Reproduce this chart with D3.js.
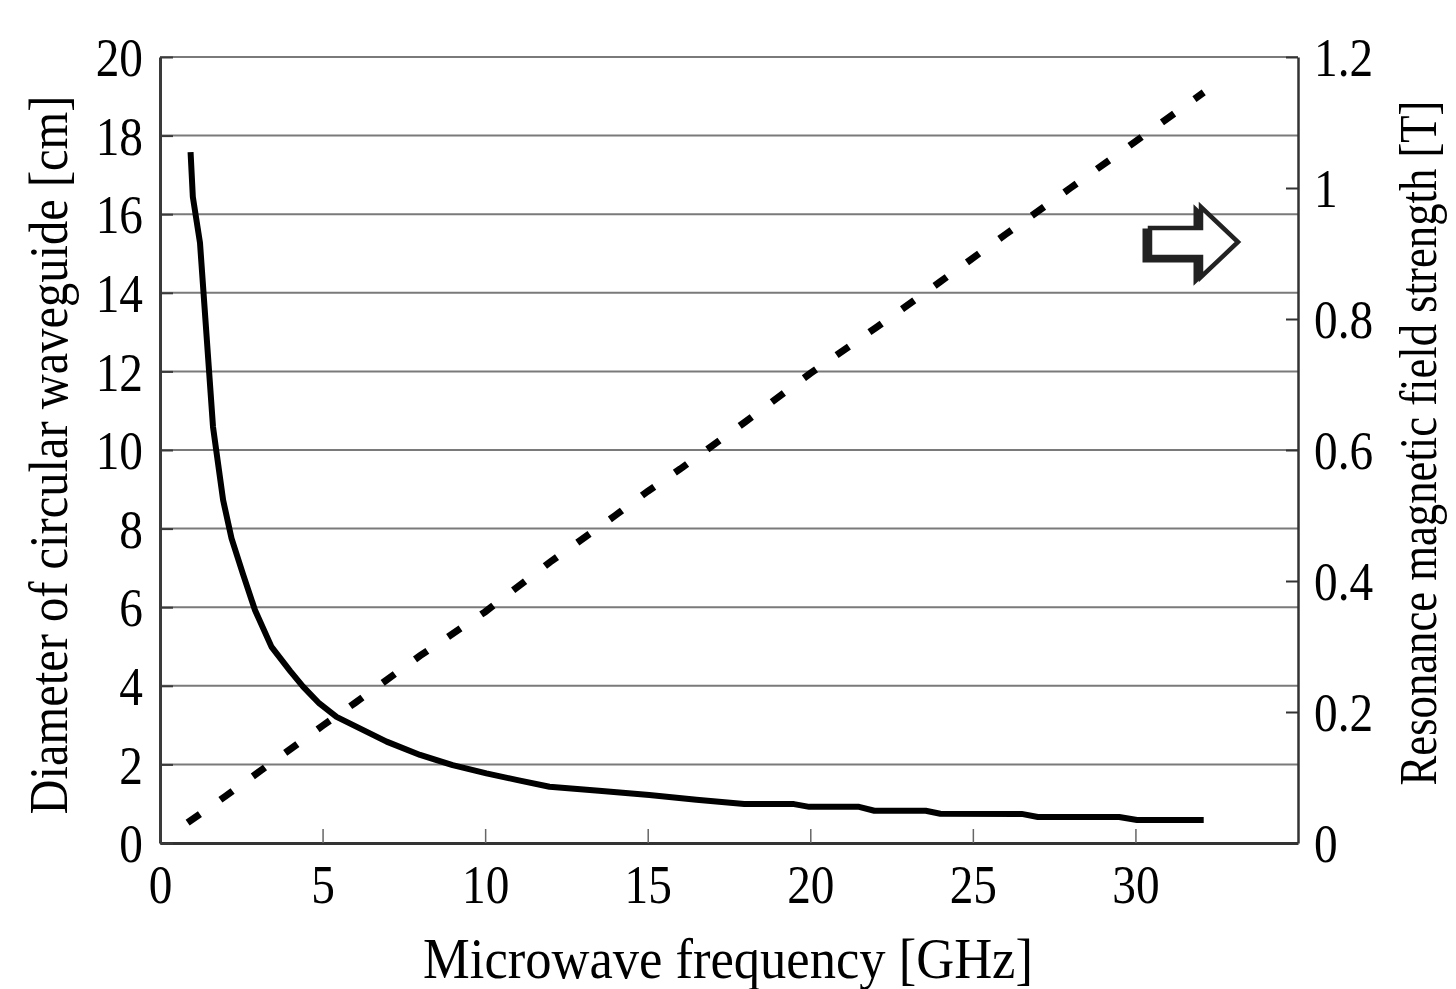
<!DOCTYPE html>
<html><head><meta charset="utf-8">
<script src="https://cdn.jsdelivr.net/npm/d3@7"></script>
<style>html,body{margin:0;padding:0;background:#fff;} svg{display:block;}</style>
</head><body>
<svg id="chart" width="1456" height="989"></svg>
<script>
// ---- data ----
const freqDiameter = [0.94, 1.01, 1.23, 1.63, 1.94, 2.2, 2.55, 2.92, 3.43, 4.0, 4.4, 4.9, 5.43, 6.97, 8.0, 9.0, 10.04, 11.0, 11.98, 13.5, 15.05, 16.5, 17.97, 19.5, 19.97, 21.5, 21.97, 23.55, 24.0, 26.5, 27.0, 29.5, 30.05, 32.1];
const diameterCm   = [17.58, 16.44, 15.27, 10.59, 8.73, 7.75, 6.85, 5.93, 4.99, 4.38, 3.98, 3.55, 3.21, 2.58, 2.24, 1.98, 1.77, 1.6, 1.43, 1.33, 1.22, 1.1, 0.99, 0.99, 0.92, 0.92, 0.82, 0.82, 0.745, 0.74, 0.66, 0.66, 0.585, 0.585];
const freqField    = [0.85, 2, 3, 4, 5, 6, 8, 10, 12, 14, 15, 16, 18, 20, 22, 24, 26, 28, 30, 32.1];
const fieldT       = [0.031, 0.071, 0.107, 0.143, 0.179, 0.214, 0.286, 0.353, 0.429, 0.5, 0.537, 0.571, 0.643, 0.717, 0.786, 0.857, 0.929, 1.0, 1.071, 1.146];
const xTicks  = [0, 5, 10, 15, 20, 25, 30];
const yLTicks = [0, 2, 4, 6, 8, 10, 12, 14, 16, 18, 20];
const yRTicks = [0, 0.2, 0.4, 0.6, 0.8, 1, 1.2];
const xTitle  = "Microwave frequency [GHz]";
const yLTitle = "Diameter of circular waveguide [cm]";
const yRTitle = "Resonance magnetic field strength [T]";

// ---- layout ----
const L = 160, R = 1298, T = 57, B = 843;
const svg = d3.select("#chart");
const x  = d3.scaleLinear().domain([0, 35]).range([L, R]);
const yL = d3.scaleLinear().domain([0, 20]).range([B, T]);
const yR = d3.scaleLinear().domain([0, 1.2]).range([B, T]);
const FONT = "'Liberation Serif','Times New Roman',serif";
const FS = 55, SX = 0.86;

// gridlines
svg.append("g").selectAll("line").data(yLTicks).join("line")
  .attr("x1", L).attr("x2", R).attr("y1", d => yL(d)).attr("y2", d => yL(d))
  .attr("stroke", "#7a7a7a").attr("stroke-width", 2);

// axes
function styleAxis(g, col, w) {
  g.select(".domain").attr("stroke", col).attr("stroke-width", w);
  g.selectAll(".tick line").attr("stroke", col).attr("stroke-width", 2);
  g.selectAll(".tick text").attr("font-family", FONT).attr("font-size", FS).attr("fill", "#000");
}
const gx = svg.append("g").attr("transform", `translate(0,${B})`)
  .call(d3.axisBottom(x).tickValues(xTicks).tickSizeInner(-14).tickSizeOuter(0).tickPadding(0));
styleAxis(gx, "#333", 3);
gx.selectAll(".tick line").attr("stroke", "#666").attr("stroke-width", 1.5);
gx.selectAll(".tick text").attr("y", 0).attr("dy", null)
  .attr("transform", `translate(0,${903 - B}) scale(${SX},1)`);

const gl = svg.append("g").attr("transform", `translate(${L},0)`)
  .call(d3.axisLeft(yL).tickValues(yLTicks).tickSizeInner(-13).tickSizeOuter(0).tickPadding(0));
styleAxis(gl, "#3a3a3a", 3);
gl.selectAll(".tick text").attr("x", 0).attr("dy", "0.34em")
  .attr("transform", `translate(-17,0) scale(${SX},1)`);

const gr = svg.append("g").attr("transform", `translate(${R},0)`)
  .call(d3.axisRight(yR).tickValues(yRTicks).tickSizeInner(-12).tickSizeOuter(0).tickPadding(0)
    .tickFormat(d => String(d)));
styleAxis(gr, "#333", 2.5);
gr.selectAll(".tick text").attr("x", 0).attr("dy", "0.34em")
  .attr("transform", `translate(16,0) scale(${SX},1)`);

// series
const dLine = d3.line().x(d => x(d[0])).y(d => yL(d[1]));
svg.append("path").datum(d3.zip(freqDiameter, diameterCm))
  .attr("d", dLine).attr("fill", "none").attr("stroke", "#000")
  .attr("stroke-width", 6).attr("stroke-linejoin", "round");

const bLine = d3.line().x(d => x(d[0])).y(d => yR(d[1]));
svg.append("path").datum(d3.zip(freqField, fieldT))
  .attr("d", bLine).attr("fill", "none").attr("stroke", "#000")
  .attr("stroke-width", 7).attr("stroke-dasharray", "15,25");

// arrow pointing to right axis
const arrowPts = [[1150,228],[1201,228],[1201,207],[1238,242],[1201,277],[1201,257],[1150,257]];
svg.append("polygon").attr("points", arrowPts.map(p => [p[0]-5, p[1]+3].join(",")).join(" "))
  .attr("fill", "#222").attr("stroke", "#222").attr("stroke-width", 5).attr("stroke-linejoin", "miter");
svg.append("polygon").attr("points", arrowPts.map(p => p.join(",")).join(" "))
  .attr("fill", "#fff").attr("stroke", "#222").attr("stroke-width", 4.5).attr("stroke-linejoin", "miter");

// titles: squeezed horizontally (in their own frame) to the target length
function title(txt, tx, ty, rot, fs, len) {
  const t = svg.append("text").attr("text-anchor", "middle")
    .attr("font-family", FONT).attr("font-size", fs).attr("fill", "#000").text(txt);
  const nat = t.node().getComputedTextLength();
  const s = len / nat;
  t.attr("transform", `translate(${tx},${ty}) rotate(${rot}) scale(${s},1)`);
}
title(xTitle, 728, 978, 0, 57, 610);
title(yLTitle, 67, 455, -90, 55, 719);
title(yRTitle, 1436, 443, -90, 53, 685);
</script>
</body></html>
